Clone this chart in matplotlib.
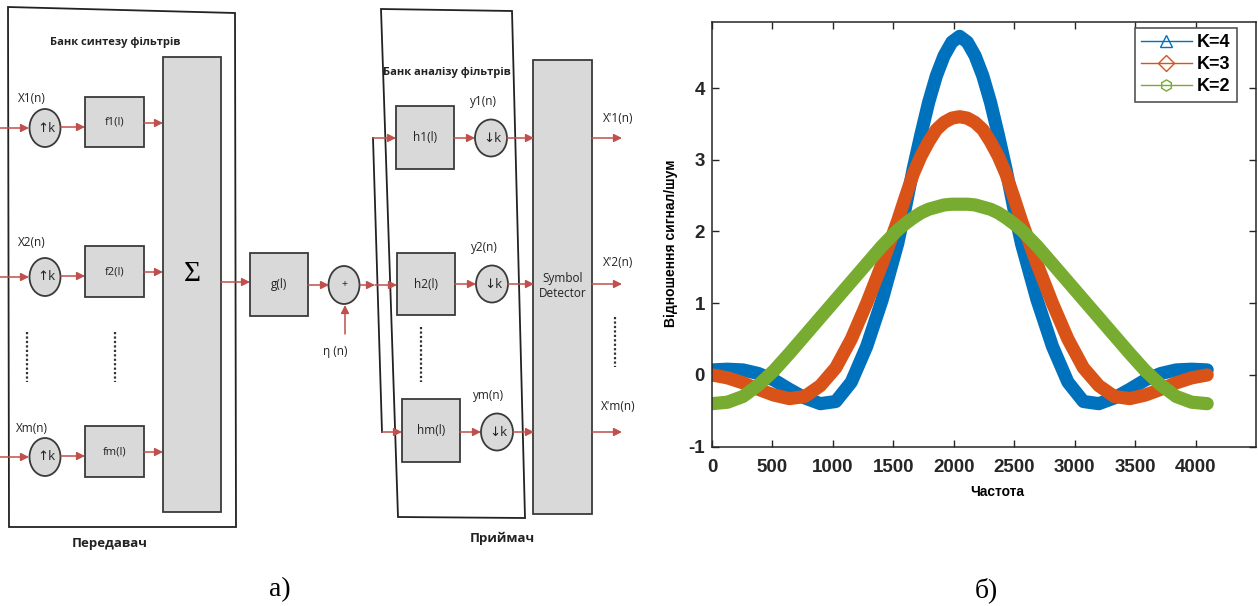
import numpy as np
import matplotlib
matplotlib.use("Agg")
import matplotlib.pyplot as plt
from matplotlib.patches import Rectangle, Ellipse, Polygon
from matplotlib.lines import Line2D

plt.rcParams["axes.unicode_minus"] = False

# --- дані графіка б) (зчитано з рисунка) ---
freq = [0, 128, 256, 384, 512, 640, 768, 896, 1024, 1152, 1280, 1408, 1536,
        1600, 1664, 1728, 1792, 1856, 1920, 1984, 2048, 2112, 2176, 2240, 2304, 2368, 2432, 2496,
        2560, 2688, 2816, 2944, 3072, 3200, 3328, 3456, 3584, 3712, 3840, 3968, 4096]
snr_k4 = [0.07, 0.08, 0.07, 0.02, -0.07, -0.20, -0.32, -0.40, -0.37, -0.10, 0.40, 1.05, 1.83,
          2.33, 2.87, 3.35, 3.80, 4.17, 4.45, 4.64, 4.72, 4.64, 4.45, 4.17, 3.80, 3.35, 2.87, 2.33,
          1.83, 1.05, 0.40, -0.10, -0.37, -0.40, -0.32, -0.20, -0.07, 0.02, 0.07, 0.08, 0.07]
snr_k3 = [0.00, -0.04, -0.11, -0.20, -0.28, -0.33, -0.30, -0.15, 0.10, 0.50, 1.00, 1.55, 2.15,
          2.48, 2.80, 3.05, 3.25, 3.42, 3.52, 3.58, 3.60, 3.58, 3.52, 3.42, 3.25, 3.05, 2.80, 2.48,
          2.15, 1.55, 1.00, 0.50, 0.10, -0.15, -0.30, -0.33, -0.28, -0.20, -0.11, -0.04, 0.00]
snr_k2 = [-0.40, -0.38, -0.30, -0.14, 0.06, 0.30, 0.55, 0.80, 1.05, 1.30, 1.55, 1.80, 2.02,
          2.11, 2.19, 2.26, 2.31, 2.34, 2.37, 2.38, 2.38, 2.38, 2.37, 2.34, 2.31, 2.26, 2.19, 2.11,
          2.02, 1.80, 1.55, 1.30, 1.05, 0.80, 0.55, 0.30, 0.06, -0.14, -0.30, -0.38, -0.40]
series_labels = ["K=4", "K=3", "K=2"]
series_colors = ["#0072BD", "#D95319", "#77AC30"]
series_markers = ["^", "D", "h"]
x_ticks = [0, 500, 1000, 1500, 2000, 2500, 3000, 3500, 4000]
y_ticks = [-1, 0, 1, 2, 3, 4]

W, H = 1258, 606
fig = plt.figure(figsize=(W / 100, H / 100), dpi=100)

# --- схема а): полотно в пікселях ---
dax = fig.add_axes([0, 0, 1, 1])
dax.set_xlim(0, W)
dax.set_ylim(H, 0)
dax.axis("off")

RED = "#c0504d"
GRAY = "#d9d9d9"
EDGE = "#3a3a3a"
SANS = ["Open Sans", "DejaVu Sans"]


def box(x0, y0, x1, y1, label=None, fs=8.5):
    dax.add_patch(Rectangle((x0, y0), x1 - x0, y1 - y0, fc=GRAY, ec=EDGE, lw=1.3))
    if label:
        dax.text((x0 + x1) / 2, (y0 + y1) / 2, label, ha="center", va="center",
                 fontsize=fs, family=SANS, color="#222222")


def circ(cx, cy, label, w=31, h=38):
    dax.add_patch(Ellipse((cx, cy), w, h, fc=GRAY, ec=EDGE, lw=1.3))
    dax.text(cx + 1, cy, label, ha="center", va="center", fontsize=9.5,
             family=SANS, color="#222222")


def arrow(x0, y0, x1, y1):
    dax.annotate("", xy=(x1, y1), xytext=(x0, y0),
                 arrowprops=dict(arrowstyle="-|>", color=RED, lw=1.1,
                                 mutation_scale=12, shrinkA=0, shrinkB=0))


def txt(x, y, s, fs=8.5, bold=False):
    dax.text(x, y, s, ha="center", va="center", fontsize=fs, family=SANS,
             fontweight="bold" if bold else "normal", color="#222222")


# передавач
dax.add_patch(Polygon([(8, 7), (235, 13), (236, 527), (9, 527)], closed=True,
                      fill=False, ec="#222222", lw=1.3))
txt(115, 42, "Банк синтезу фільтрів", 8, True)
rows_tx = [  # (label, label_y, circle_y, box_top, box_bottom, out_y, name)
    ("X1(n)", 98, 128, 97, 147, 123, "f1(l)"),
    ("X2(n)", 242, 277, 246, 297, 272, "f2(l)"),
    ("Xm(n)", 428, 457, 426, 477, 452, "fm(l)"),
]
for lab, ly, cy, bt, bb, oy, name in rows_tx:
    txt(32, ly, lab, 8.5)
    arrow(0, cy, 29, cy)
    circ(45, cy, "↑k")
    arrow(61, cy - 1, 85, cy - 1)
    box(85, bt, 144, bb, name, 8)
    arrow(144, oy, 163, oy)
for xd in (27, 115):
    dax.plot([xd, xd], [332, 382], color="#333333", lw=1.6, ls=(0, (1, 1)))
box(163, 57, 221, 512)
dax.text(192, 274, "Σ", ha="center", va="center", fontsize=21, family="Liberation Serif")
txt(110, 543, "Передавач", 9.5, True)

# канал
arrow(221, 282, 250, 282)
box(250, 253, 308, 316, "g(l)", 8.5)
arrow(308, 285, 329, 285)
dax.add_patch(Ellipse((344, 285), 31, 38, fc=GRAY, ec=EDGE, lw=1.3))
txt(344, 285, "+", 7.5)
arrow(345, 334, 345, 305)
txt(335, 352, "η (n)", 8.5)
arrow(360, 285, 375, 285)
arrow(375, 285, 397, 285)
dax.plot([373, 382], [138, 432], color="#222222", lw=1.3)

# приймач
dax.add_patch(Polygon([(381, 9), (512, 11), (525, 518), (398, 517)], closed=True,
                      fill=False, ec="#222222", lw=1.3))
txt(447, 72, "Банк аналізу фільтрів", 8, True)
rows_rx = [  # (x_in, box_x0, box_top, box_bottom, y, name, y_label, out_label, out_label_y)
    (373, 396, 106, 169, 138, "h1(l)", "y1(n)", "X'1(n)", 118),
    (375, 397, 253, 315, 284, "h2(l)", "y2(n)", "X'2(n)", 262),
    (382, 402, 399, 462, 432, "hm(l)", "ym(n)", "X'm(n)", 406),
]
for i, (xi, bx, bt, bb, yy, name, ylab, olab, oly) in enumerate(rows_rx):
    if i != 1:
        arrow(xi, yy, bx, yy)
    box(bx, bt, bx + 58, bb, name, 8.5)
    cx = bx + 95
    arrow(bx + 58, yy, cx - 16, yy)
    circ(cx, yy, "↓k", 32, 37)
    txt(cx - 8, yy - 37, ylab, 8.5)
    arrow(cx + 16, yy, 534, yy)
    arrow(592, yy, 622, yy)
    txt(618, oly, olab, 8.5)
dax.plot([421, 421], [327, 382], color="#333333", lw=1.6, ls=(0, (1, 1)))
dax.plot([615, 615], [317, 367], color="#333333", lw=1.6, ls=(0, (1, 1)))
box(533, 60, 592, 514)
txt(563, 286, "Symbol\nDetector", 8.5)
txt(502, 538, "Приймач", 9.5, True)

dax.text(280, 590, "а)", ha="center", va="center", fontsize=20, family="Liberation Serif")
dax.text(986, 590, "б)", ha="center", va="center", fontsize=20, family="Liberation Serif")

# --- графік б) ---
ax = fig.add_axes([712 / W, 1 - 446.7 / H, (1256 - 712) / W, (446.7 - 22) / H])
for y, c in zip([snr_k4, snr_k3, snr_k2], series_colors):
    ax.plot(freq, y, color=c, lw=9.5, solid_capstyle="round", solid_joinstyle="round")
ax.set_xlim(0, 4500)
ax.set_ylim(-1, 4.92)
ax.set_xticks(x_ticks)
ax.set_yticks(y_ticks)
for lab in ax.get_xticklabels() + ax.get_yticklabels():
    lab.set_fontweight("bold")
    lab.set_family("Liberation Sans")
    lab.set_fontsize(13.5)
    lab.set_color("#262626")
ax.tick_params(direction="in", length=5, width=1, colors="#262626", top=True, right=True)
ax.tick_params(axis="x", pad=9)
ax.tick_params(axis="y", pad=5)
for s in ax.spines.values():
    s.set_color("#262626")
    s.set_linewidth(1.1)
ax.set_xlabel("Частота", fontsize=10, fontweight="bold", family="Liberation Sans")
ax.xaxis.set_label_coords((997 - 712) / 544, -0.09)
ax.set_ylabel("Відношення сигнал/шум", fontsize=10, fontweight="bold", family="Liberation Sans")
ax.yaxis.set_label_coords(-0.062, 0.48)

handles = [Line2D([], [], color=c, lw=1.0, marker=m, mfc="none", mec=c, ms=8)
           for c, m in zip(series_colors, series_markers)]
leg = ax.legend(handles, series_labels, loc="upper right",
                bbox_to_anchor=(1237 / W, 1 - 28 / H), bbox_transform=fig.transFigure,
                borderaxespad=0, fancybox=False, framealpha=1, edgecolor="#555555",
                handlelength=2.8, handletextpad=0.3, labelspacing=0.28, borderpad=0.35,
                prop={"family": "Liberation Sans", "weight": "bold", "size": 13})
leg.get_frame().set_linewidth(1.2)

fig.savefig("out.png", dpi=100)
